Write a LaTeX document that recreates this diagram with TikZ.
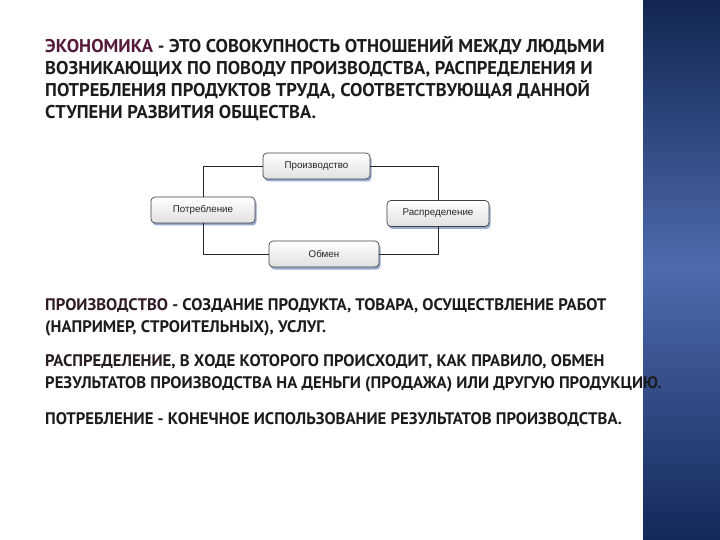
\documentclass[tikz,border=0pt]{standalone}
\usepackage{fontspec}
\setmainfont{PT Sans}
\newfontfamily\boxfont{Liberation Sans}
\usetikzlibrary{shadows}
\definecolor{txt}{HTML}{1C1C1C}
\definecolor{maroon}{HTML}{561A3A}
\definecolor{navytop}{HTML}{132650}
\definecolor{navymid}{HTML}{4D6BAE}
\definecolor{navybot}{HTML}{142858}
\definecolor{shadowblue}{HTML}{7E95C4}
\tikzset{
  line/.style={anchor=base west, inner sep=0pt, text=txt, font=\bfseries\fontsize{16.7}{20}\selectfont},
  tline/.style={line, font=\bfseries\fontsize{18.5}{22}\selectfont},
  box/.style={draw=black!75, line width=0.7pt, rounded corners=4pt, top color=white, bottom color=black!12,
    minimum height=26pt, inner sep=0pt, font=\boxfont\fontsize{9.8}{11}\selectfont, text=black!85,
    drop shadow={shadow xshift=1.5pt, shadow yshift=-2.5pt, fill=shadowblue, opacity=0.8}},
  conn/.style={draw=black!85, line width=0.7pt}
}
\begin{document}
\begin{tikzpicture}[x=1pt,y=-1pt]
\useasboundingbox (0,0) rectangle (720,540);
\fill[white] (0,0) rectangle (720,540);
\shade[top color=navytop, bottom color=navybot, middle color=navymid] (643,0) rectangle (720,540);
% title
\node[tline] (t1) at (45,53) {\textcolor{maroon}{ЭКОНОМИКА} - ЭТО СОВОКУПНОСТЬ ОТНОШЕНИЙ МЕЖДУ ЛЮДЬМИ};
\node[tline] (t2) at (45,75) {ВОЗНИКАЮЩИХ ПО ПОВОДУ ПРОИЗВОДСТВА, РАСПРЕДЕЛЕНИЯ И};
\node[tline] (t3) at (45,97) {ПОТРЕБЛЕНИЯ ПРОДУКТОВ ТРУДА, СООТВЕТСТВУЮЩАЯ ДАННОЙ};
\node[tline] (t4) at (45,119) {СТУПЕНИ РАЗВИТИЯ ОБЩЕСТВА.};
% diagram
\node[box, minimum width=107pt] (prod) at (316.5,166) {Производство};
\node[box, minimum width=104pt] (potr) at (203,210) {Потребление};
\node[box, minimum width=102pt] (rasp) at (438,213.5) {Распределение};
\node[box, minimum width=110pt] (obm) at (324,254) {Обмен};
\draw[conn] (prod.west) -| (potr.north);
\draw[conn] (prod.east) -| (rasp.north);
\draw[conn] (rasp.south) |- (obm.east);
\draw[conn] (potr.south) |- (obm.west);
% bottom text
\node[line] (b1) at (45,310) {\textcolor{maroon!35!txt}{ПРОИЗВОДСТВО} - СОЗДАНИЕ ПРОДУКТА, ТОВАРА, ОСУЩЕСТВЛЕНИЕ РАБОТ};
\node[line] (b2) at (45,332) {(НАПРИМЕР, СТРОИТЕЛЬНЫХ), УСЛУГ.};
\node[line] (b3) at (45,366) {\textcolor{maroon!20!txt}{РАСПРЕДЕЛЕНИЕ}, В ХОДЕ КОТОРОГО ПРОИСХОДИТ, КАК ПРАВИЛО, ОБМЕН};
\node[line] (b4) at (45,388) {РЕЗУЛЬТАТОВ ПРОИЗВОДСТВА НА ДЕНЬГИ (ПРОДАЖА) ИЛИ ДРУГУЮ ПРОДУКЦИЮ.};
\node[line] (b5) at (45,424) {ПОТРЕБЛЕНИЕ - КОНЕЧНОЕ ИСПОЛЬЗОВАНИЕ РЕЗУЛЬТАТОВ ПРОИЗВОДСТВА.};
\end{tikzpicture}
\end{document}
